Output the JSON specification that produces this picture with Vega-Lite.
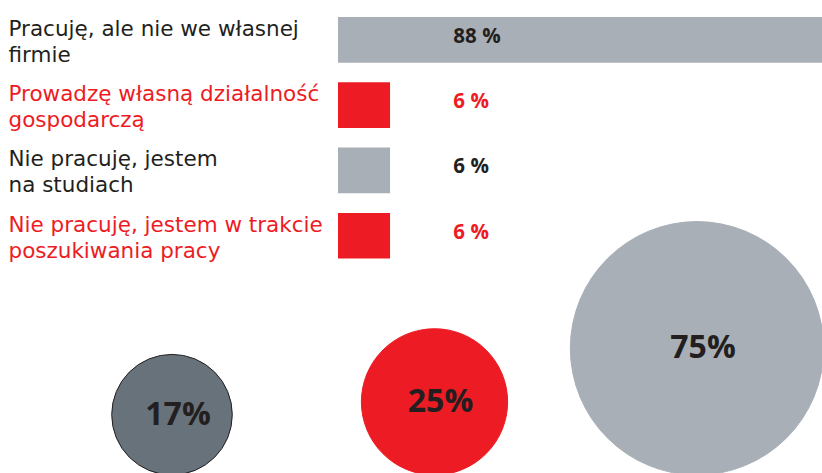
{
  "$schema": "https://vega.github.io/schema/vega-lite/v6.json",
  "width": 822,
  "height": 473,
  "autosize": "none",
  "padding": 0,
  "background": "white",
  "config": {"view": {"stroke": null}},
  "datasets": {
    "wiersze": [
      {"cat": "Pracuję, ale nie we własnej\nfirmie", "value": 88},
      {"cat": "Prowadzę własną działalność\ngospodarczą", "value": 6},
      {"cat": "Nie pracuję, jestem\nna studiach", "value": 6},
      {"cat": "Nie pracuję, jestem w trakcie\nposzukiwania pracy", "value": 6}
    ],
    "kola": [
      {"grupa": "A", "value": 17},
      {"grupa": "B", "value": 25},
      {"grupa": "C", "value": 75}
    ]
  },
  "layer": [
    {
      "data": {"name": "wiersze"},
      "transform": [{"calculate": "datum.value + ' %'", "as": "etykieta"}],
      "encoding": {
        "y": {
          "field": "cat", "type": "nominal", "sort": null,
          "scale": {"type": "band", "range": [17, 258.6], "paddingInner": 0.3, "paddingOuter": 0},
          "axis": {
            "offset": -8, "domain": false, "ticks": false, "grid": false, "title": null,
            "labelAlign": "left", "labelPadding": 0, "labelBaseline": "alphabetic", "labelOffset": -4,
            "labelFont": "DejaVu Sans", "labelFontSize": 21.5, "labelLineHeight": 26,
            "labelLimit": 400, "labelOverlap": false, "labelBound": false,
            "labelExpr": "split(datum.label, '\\n')",
            "labelColor": {"condition": {"test": "indexof(datum.value, 'Prowadzę') == 0 || indexof(datum.value, 'trakcie') > 0", "value": "#ED1C24"}, "value": "#231F20"}
          }
        }
      },
      "layer": [
        {
          "mark": {"type": "bar", "clip": true},
          "encoding": {
            "x": {"field": "value", "type": "quantitative", "scale": {"domain": [0, 55.8], "range": [338, 822], "nice": false, "zero": true}, "axis": null},
            "color": {"field": "cat", "type": "nominal", "sort": null, "scale": {"range": ["#A8AFB6", "#ED1C24", "#A8AFB6", "#ED1C24"]}, "legend": null}
          }
        },
        {
          "mark": {"type": "text", "align": "left", "baseline": "middle", "font": "Open Sans", "fontWeight": "bold", "fontSize": 20.5, "dy": -3},
          "encoding": {
            "x": {"datum": 13.3, "type": "quantitative"},
            "text": {"field": "etykieta"},
            "color": {"field": "cat", "type": "nominal", "sort": null, "scale": {"range": ["#231F20", "#ED1C24", "#231F20", "#ED1C24"]}, "legend": null}
          }
        }
      ],
      "resolve": {"scale": {"color": "independent"}}
    },
    {
      "data": {"name": "kola"},
      "transform": [{"calculate": "datum.value + '%'", "as": "etykieta"}],
      "encoding": {
        "x": {"field": "grupa", "type": "nominal", "scale": {"type": "point", "range": [172, 697], "padding": 0}, "axis": null},
        "y": {"field": "value", "type": "quantitative", "scale": {"type": "sqrt", "domain": [0, 75], "range": [475, 348.3], "zero": true, "nice": false}, "axis": null}
      },
      "layer": [
        {
          "mark": {"type": "circle", "opacity": 1, "strokeWidth": 1},
          "encoding": {
            "size": {"field": "value", "type": "quantitative", "scale": {"type": "linear", "domain": [0, 75], "range": [0, 64170]}, "legend": null},
            "color": {"field": "grupa", "type": "nominal", "scale": {"range": ["#68727A", "#ED1C24", "#A8AFB6"]}, "legend": null},
            "stroke": {"field": "grupa", "type": "nominal", "scale": {"range": ["#231F20", "#ED1C24", "#A8AFB6"]}, "legend": null}
          }
        },
        {
          "mark": {"type": "text", "font": "Open Sans", "fontWeight": "bold", "fontSize": 32, "dx": 6, "baseline": "middle", "color": "#231F20"},
          "encoding": {"text": {"field": "etykieta"}}
        }
      ]
    }
  ],
  "resolve": {"scale": {"x": "independent", "y": "independent", "color": "independent", "size": "independent", "stroke": "independent"}}
}
